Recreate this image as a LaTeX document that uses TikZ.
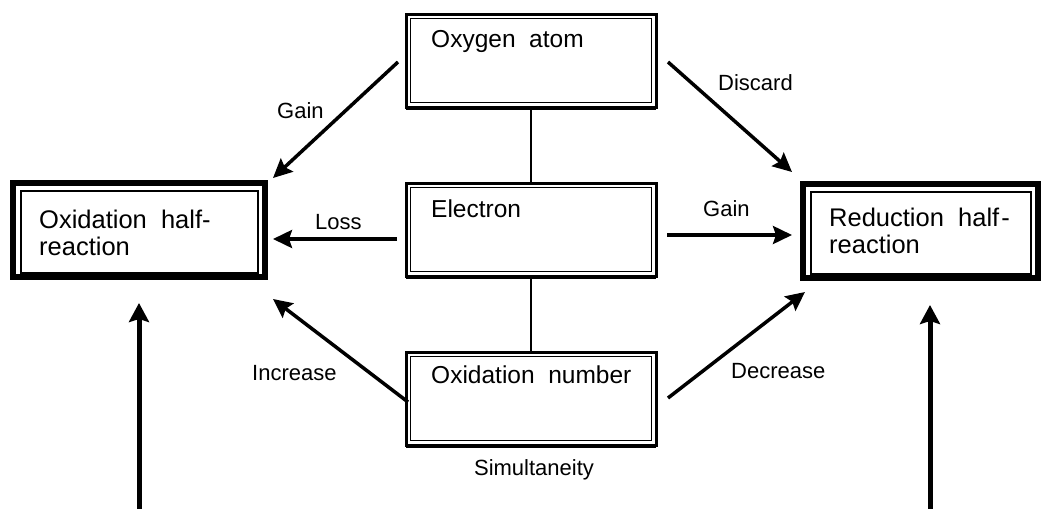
\documentclass[tikz,border=0pt]{standalone}
\usepackage{fontspec}
\setmainfont{Liberation Sans}
\usetikzlibrary{arrows.meta}
\begin{document}
\begin{tikzpicture}[x=1pt,y=-1pt,
 sidebox/.style={draw, line width=6.5pt, outer sep=0pt, inner sep=0pt, anchor=north west},
 midbox/.style={draw, line width=3pt, outer sep=0pt, inner sep=0pt, anchor=north west, minimum width=250pt, minimum height=93pt},
 innerline/.style={line width=1.8pt},
 boxtext/.style={anchor=base west, inner sep=0pt, font=\fontsize{24.5}{27}\selectfont},
 sidetext/.style={anchor=base west, inner sep=0pt, font=\fontsize{25.5}{27}\selectfont},
 lbl/.style={anchor=base west, inner sep=0pt, font=\fontsize{22}{26}\selectfont},
 arr/.style={line width=3.5pt, -{Stealth[length=19pt,width=18pt,inset=3pt]}},
 bigarr/.style={line width=5pt, -{Stealth[length=19pt,width=20pt,inset=3pt]}},
 link/.style={line width=1.4pt}]
\useasboundingbox (0,0) rectangle (1045,509);
% side boxes
\node[sidebox, minimum width=252pt, minimum height=94pt] (oxh) at (13,183) {};
\draw[innerline] ([shift={(8,8)}]oxh.north west) rectangle ([shift={(-7,-4)}]oxh.south east);
\node[sidebox, minimum width=235pt, minimum height=94pt] (red) at (803,184) {};
\draw[innerline] ([shift={(8,8)}]red.north west) rectangle ([shift={(-7,-4)}]red.south east);
% middle boxes
\node[midbox] (oxy) at (406,14) {};
\draw[innerline] ([shift={(4.5,4.5)}]oxy.north west) rectangle ([shift={(-4.5,-4.5)}]oxy.south east);
\draw[line width=4pt] ([shift={(0,1)}]oxy.south west) -- ([shift={(0,1)}]oxy.south east);
\node[midbox] (ele) at (406,183) {};
\draw[innerline] ([shift={(4.5,4.5)}]ele.north west) rectangle ([shift={(-4.5,-4.5)}]ele.south east);
\draw[line width=4pt] ([shift={(0,1)}]ele.south west) -- ([shift={(0,1)}]ele.south east);
\node[midbox] (onum) at (406,352) {};
\draw[innerline] ([shift={(4.5,4.5)}]onum.north west) rectangle ([shift={(-4.5,-4.5)}]onum.south east);
\draw[line width=4pt] ([shift={(0,1)}]onum.south west) -- ([shift={(0,1)}]onum.south east);
% box texts
\node[sidetext] (t1a) at (39,228) {Oxidation\ \ half-};
\node[sidetext] (t1b) at (39,255) {reaction};
\node[sidetext] (t2a) at (829,226) {Reduction\ \ half\kern2pt-};
\node[sidetext] (t2b) at (829,253) {reaction};
\node[boxtext] (t3) at (431,47) {Oxygen\ \ atom};
\node[boxtext] (t4) at (431,217) {Electron};
\node[boxtext] (t5) at (431,383) {Oxidation\ \ number};
% links
\draw[link] (oxy.south) -- (ele.north);
\draw[link] (ele.south) -- (onum.north);
% arrow end points
\coordinate (g1s) at (398,62);  \coordinate (g1e) at (273,178);
\coordinate (dss) at (668,62);  \coordinate (dse) at (792,172);
\coordinate (lss) at (397,239); \coordinate (lse) at (273,239);
\coordinate (g2s) at (667,235); \coordinate (g2e) at (792,235);
\coordinate (ins) at (408,402); \coordinate (ine) at (273,299);
\coordinate (des) at (668,398); \coordinate (dee) at (805,292);
\coordinate (b1s) at (139,509); \coordinate (b1e) at (139,303);
\coordinate (b2s) at (930,509); \coordinate (b2e) at (930,305);
\draw[arr] (g1s) -- (g1e);
\draw[arr] (dss) -- (dse);
\draw[arr] (lss) -- (lse);
\draw[arr] (g2s) -- (g2e);
\draw[arr] (ins) -- (ine);
\draw[arr] (des) -- (dee);
\draw[bigarr] (b1s) -- (b1e);
\draw[bigarr] (b2s) -- (b2e);
% labels
\node[lbl] (l1) at (277,118) {Gain};
\node[lbl] (l2) at (718,90) {Discard};
\node[lbl] (l3) at (315,229) {Loss};
\node[lbl] (l4) at (703,216) {Gain};
\node[lbl] (l5) at (252,380) {Increase};
\node[lbl] (l6) at (731,378) {Decrease};
\node[lbl, anchor=base] (l7) at (534,475) {Simultaneity};
\end{tikzpicture}
\end{document}
